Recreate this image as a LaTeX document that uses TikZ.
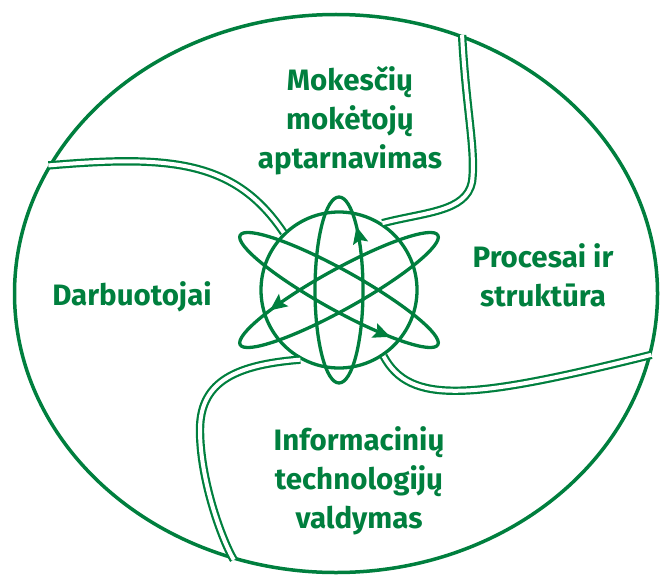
\documentclass[tikz,border=0pt]{standalone}
\usepackage{fontspec}
\setmainfont{Fira Sans}
\usetikzlibrary{shapes.geometric,arrows.meta,decorations.markings}
\definecolor{vmigreen}{RGB}{0,127,62}
\begin{document}
\begin{tikzpicture}[x=1pt,y=-1pt,
        lbl/.style={text=vmigreen,font=\bfseries\fontsize{29.5}{39}\selectfont,align=center,inner sep=0pt},
        road/.style={draw=vmigreen,line width=2.2pt,double=white,double distance=4pt},
        orbit/.style={draw=vmigreen,line width=3.3pt},
        spin/.style={decoration={markings,mark=at position #1 with {\arrow{Stealth[length=17pt,width=15pt,inset=3pt]}}},postaction={decorate}}]
    \useasboundingbox (0,0) rectangle (660,575);
    \node(frame)[ellipse,draw=vmigreen,line width=3.5pt,inner sep=0pt,minimum width=643pt,minimum height=558pt] at (336,293.5){};
    \node(hub)[circle,draw=vmigreen,line width=3.3pt,inner sep=0pt,minimum size=156pt] at (339,290){};
    % roads between the four fields
    \draw[road] (frame.64.7) .. controls (466,110) and (476,150) .. (472,182) .. controls (466,212) and (425,212) .. (hub.57);
    \draw[road] (frame.156.8) .. controls (170,155) and (235,160) .. (hub.134);
    \draw[road] (hub.-56) .. controls (410,405) and (470,400) .. (frame.-11.2);
    \draw[road] (hub.241) .. controls (230,365) and (200,385) .. (200,430) .. controls (200,480) and (222,540) .. (frame.249);
    % fields
    \node(tax)[lbl] at (350,121){Mokesčių\\mokėtojų\\aptarnavimas};
    \node(proc)[lbl] at (543,275){Procesai ir\\struktūra};
    \node(staff)[lbl] at (132,297){Darbuotojai};
    \node(it)[lbl] at (359,481){Informacinių\\technologijų\\valdymas};
    % orbits round the hub
    \draw[orbit,spin=0.16] (hub.center) ellipse[x radius=24pt,y radius=93pt];
    \draw[orbit,spin=0.894,rotate around={-29:(hub.center)}] (hub.center) ellipse[x radius=113pt,y radius=20pt];
    \draw[orbit,spin=0.40,rotate around={29:(hub.center)}] (hub.center) ellipse[x radius=113pt,y radius=20pt];
\end{tikzpicture}
\end{document}
